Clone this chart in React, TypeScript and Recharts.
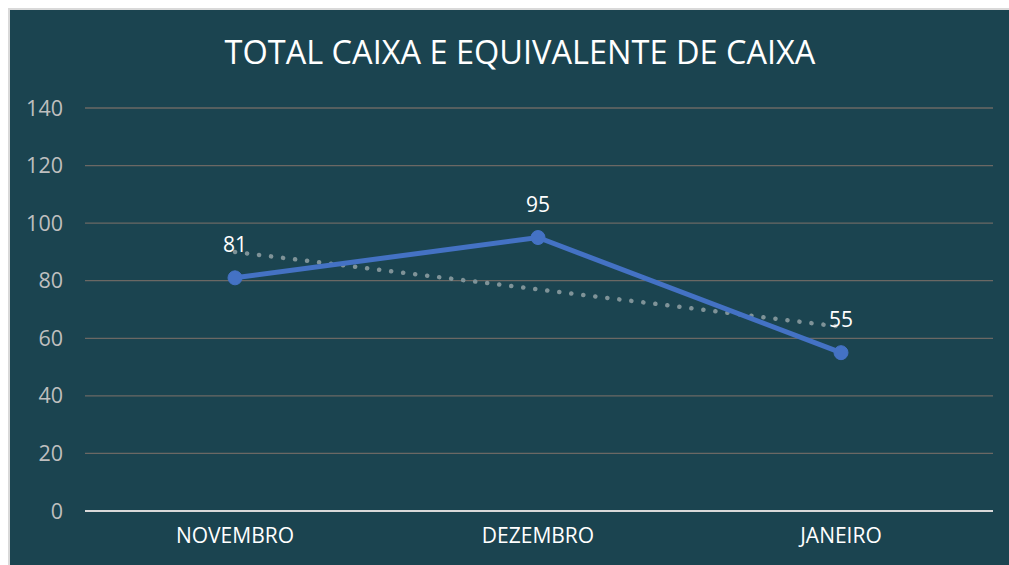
import { LineChart, Line, XAxis, YAxis, CartesianGrid, LabelList } from 'recharts';

const months = ['NOVEMBRO', 'DEZEMBRO', 'JANEIRO'];
const caixa = [81, 95, 55];
const tendencia = [90, 77, 64];
const yTicks = [0, 20, 40, 60, 80, 100, 120, 140];

const data = months.map((m, i) => ({ mes: m, caixa: caixa[i], tendencia: tendencia[i] }));

const FONT = '"Open Sans", "Liberation Sans", sans-serif';

export default function App() {
  return (
    <div style={{ position: 'absolute', left: 0, top: 0, width: 1009, height: 565, background: '#fff', overflow: 'hidden' }}>
      <div
        style={{
          position: 'absolute', left: 8, top: 8, width: 1001, height: 557,
          background: '#1b4450', borderLeft: '2px solid #d9d9d9', borderTop: '2px solid #d9d9d9',
          fontFamily: FONT,
        }}
      >
        <div style={{ position: 'absolute', left: 0, width: 1020, top: 19, textAlign: 'center', color: '#fff', fontSize: 32.5 }}>
          TOTAL CAIXA E EQUIVALENTE DE CAIXA
        </div>
        <div style={{ position: 'absolute', left: 0, top: 0 }}>
          <LineChart width={1001} height={557} data={data} margin={{ top: 98, right: 18, bottom: 0, left: 0 }}>
            <CartesianGrid vertical={false} stroke="#6b6864" strokeWidth={1.3} />
            <XAxis
              dataKey="mes"
              padding={{ left: 150, right: 152 }}
              axisLine={{ stroke: '#d9d9d9', strokeWidth: 2 }}
              tickLine={false}
              tick={{ fill: '#ffffff', fontSize: 21, fontFamily: FONT }}
              tickMargin={11}
              height={56}
            />
            <YAxis
              domain={[0, 140]}
              ticks={yTicks}
              axisLine={false}
              tickLine={false}
              tickSize={0}
              tickMargin={22}
              width={75}
              tick={{ fill: '#bfbfbf', fontSize: 21.5, fontFamily: FONT }}
            />
            <Line
              dataKey="tendencia"
              stroke="#7f9398"
              strokeWidth={4.5}
              strokeLinecap="round"
              strokeDasharray="0.1 12"
              dot={false}
              activeDot={false}
              isAnimationActive={false}
            />
            <Line
              dataKey="caixa"
              stroke="#4472c4"
              strokeWidth={5}
              dot={{ r: 7, fill: '#4472c4', stroke: '#4472c4', strokeWidth: 1 }}
              activeDot={false}
              isAnimationActive={false}
            >
              <LabelList dataKey="caixa" position="top" offset={26} fill="#ffffff" fontSize={21} fontFamily={FONT} />
            </Line>
          </LineChart>
        </div>
      </div>
    </div>
  );
}
